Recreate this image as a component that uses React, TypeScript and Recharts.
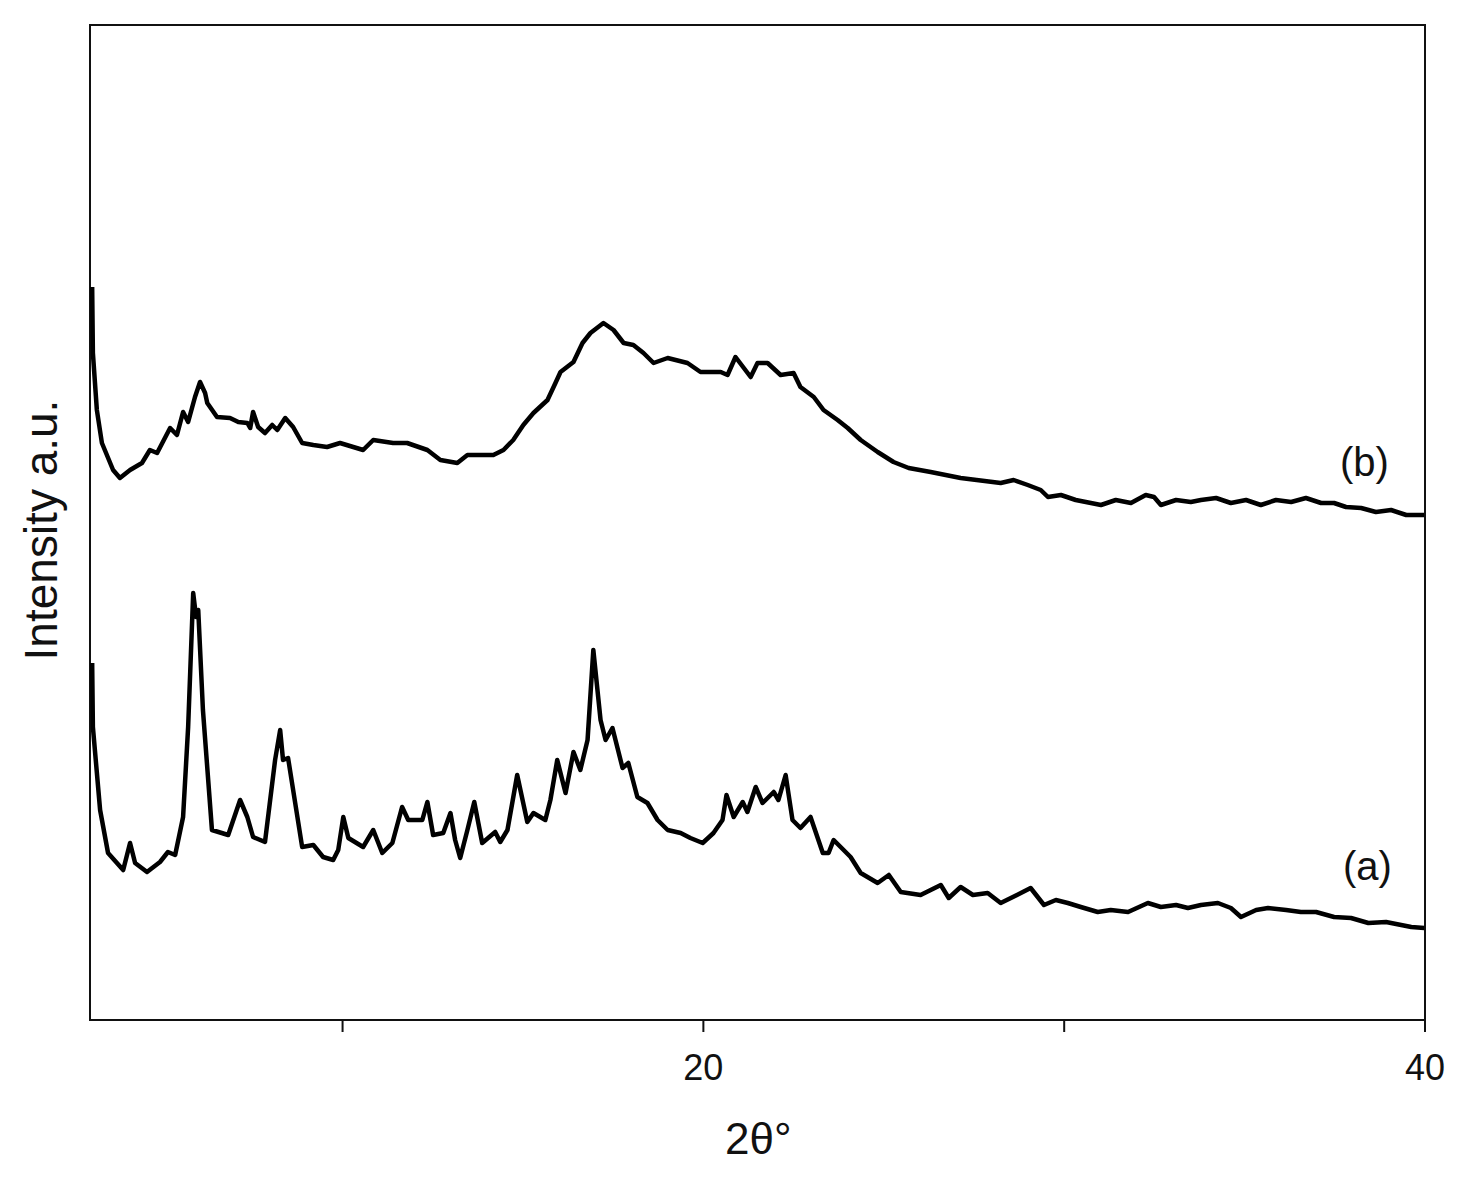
import { LineChart, Line, XAxis, YAxis, ReferenceArea } from "recharts";

// 2θ (degrees) and intensity (a.u.)
const thetaA = [
  3.06, 3.08, 3.28, 3.5, 3.92, 4.11, 4.25, 4.58, 4.94, 5.16, 5.36, 5.58, 5.72, 5.86, 5.94, 6.0, 6.13, 6.38,
  6.83, 7.16, 7.36, 7.52, 7.85, 8.13, 8.27, 8.35, 8.49, 8.88, 9.19, 9.46, 9.74, 9.88, 10.02, 10.16, 10.57,
  10.85, 11.1, 11.38, 11.65, 11.82, 12.21, 12.35, 12.51, 12.79, 12.99, 13.12, 13.26, 13.46, 13.65, 13.87,
  14.23, 14.37, 14.57, 14.84, 15.12, 15.29, 15.62, 15.76, 15.95, 16.18, 16.4, 16.59, 16.79, 16.95, 17.15,
  17.29, 17.48, 17.76, 17.92, 18.17, 18.45, 18.73, 19.01, 19.37, 19.64, 19.98, 20.28, 20.53, 20.64, 20.84,
  21.09, 21.22, 21.45, 21.64, 21.95, 22.08, 22.28, 22.47, 22.69, 22.97, 23.31, 23.47, 23.61, 24.08, 24.36,
  24.83, 25.14, 25.47, 26.02, 26.58, 26.8, 27.13, 27.47, 27.88, 28.24, 28.8, 29.07, 29.44, 29.77, 30.1,
  30.46, 30.93, 31.29, 31.77, 32.32, 32.68, 33.1, 33.43, 33.79, 34.26, 34.62, 34.9, 35.32, 35.65, 36.15,
  36.56, 36.98, 37.48, 37.95, 38.43, 38.92, 39.34, 39.62, 39.98,
];
const intensityA = [
  357, 293, 210, 167, 150, 177, 157, 148, 158, 168, 165, 203, 293, 427, 403, 410, 310, 190,
  185, 220, 203, 183, 178, 260, 290, 260, 262, 173, 175, 163, 160, 170, 203, 182, 173,
  190, 167, 177, 213, 200, 200, 218, 185, 187, 207, 180, 162, 190, 218, 177,
  188, 178, 190, 245, 198, 207, 200, 220, 260, 227, 268, 250, 280, 370, 300,
  280, 292, 252, 257, 223, 217, 200, 190, 187, 182, 177, 187, 200, 225, 203,
  218, 208, 233, 217, 228, 220, 245, 200, 192, 203, 167, 167, 180, 163, 147,
  137, 145, 128, 125, 135, 122, 133, 125, 127, 117, 127, 132, 115, 120, 117,
  113, 108, 110, 108, 117, 113, 115, 112, 115, 117, 112, 103, 110, 112, 110,
  108, 108, 103, 102, 97, 98, 95, 93, 92,
];

const thetaB = [
  3.06, 3.08, 3.19, 3.33, 3.64, 3.83, 4.11, 4.44, 4.66, 4.86, 5.22, 5.41, 5.58, 5.72, 5.91, 6.05, 6.19, 6.25,
  6.52, 6.88, 7.11, 7.36, 7.44, 7.52, 7.66, 7.85, 8.05, 8.19, 8.41, 8.63, 8.88, 9.19, 9.57, 9.93, 10.57,
  10.85, 11.4, 11.79, 12.35, 12.71, 13.18, 13.46, 13.82, 14.18, 14.46, 14.73, 15.01, 15.29, 15.68, 15.9,
  16.04, 16.4, 16.65, 16.87, 17.23, 17.51, 17.79, 18.06, 18.34, 18.62, 19.01, 19.56, 19.92, 20.48, 20.67,
  20.89, 21.31, 21.5, 21.78, 22.14, 22.5, 22.69, 23.06, 23.33, 23.72, 24.0, 24.36, 24.83, 25.27, 25.69,
  26.3, 27.13, 28.24, 28.6, 28.99, 29.35, 29.55, 29.91, 30.32, 30.74, 31.02, 31.43, 31.85, 32.26, 32.49,
  32.68, 33.1, 33.51, 33.79, 34.21, 34.62, 35.04, 35.45, 35.87, 36.29, 36.7, 37.12, 37.48, 37.81, 38.23,
  38.64, 39.06, 39.48, 39.98,
];
const intensityB = [
  733, 667, 610, 577, 550, 542, 550, 557, 570, 567, 592, 585, 608, 598, 623, 638, 627, 617,
  603, 602, 598, 597, 592, 608, 593, 587, 595, 590, 602, 593, 577, 575, 573, 577, 570,
  580, 577, 577, 570, 560, 557, 565, 565, 565, 570, 580, 595, 607, 620, 637,
  648, 658, 677, 687, 697, 690, 677, 675, 667, 657, 662, 657, 648, 648, 645,
  663, 643, 657, 657, 645, 647, 633, 623, 610, 600, 592, 580, 568, 558, 552,
  548, 542, 537, 540, 535, 530, 523, 525, 520, 517, 515, 520, 517, 525, 523,
  515, 520, 518, 520, 522, 517, 520, 515, 520, 518, 522, 517, 517, 513, 512,
  508, 510, 505, 505,
];

const xTicks = [10, 20, 30, 40];
const labeledTicks = [20, 40];

const patternA = thetaA.map((x, i) => ({ x, y: intensityA[i] }));
const patternB = thetaB.map((x, i) => ({ x, y: intensityB[i] }));

const FONT = "'Liberation Sans', Arial, Helvetica, sans-serif";

export default function App() {
  return (
    <div style={{ position: "relative", width: 1445, height: 1160, fontFamily: FONT, background: "#fff" }}>
      <LineChart width={1445} height={1160} margin={{ top: 17, right: 28, bottom: 88, left: 82 }}>
        <XAxis
          dataKey="x"
          type="number"
          domain={[3, 40]}
          ticks={xTicks}
          tickFormatter={(v: number) => (labeledTicks.includes(v) ? String(v) : "")}
          allowDataOverflow
          height={60}
          tickSize={12}
          tickMargin={22}
          stroke="#111"
          strokeWidth={2}
          tick={{ fill: "#111", fontSize: 36, fontFamily: FONT }}
        />
        <YAxis type="number" domain={[0, 995]} hide allowDataOverflow />
        <ReferenceArea x1={3} x2={40} y1={0} y2={995} fill="none" stroke="#111" strokeWidth={2} ifOverflow="extendDomain" />
        <Line data={patternA} dataKey="y" type="linear" stroke="#000" strokeWidth={4.5} strokeLinejoin="round" dot={false} isAnimationActive={false} />
        <Line data={patternB} dataKey="y" type="linear" stroke="#000" strokeWidth={4.5} strokeLinejoin="round" dot={false} isAnimationActive={false} />
      </LineChart>

      <div
        style={{
          position: "absolute",
          left: 33,
          top: 522,
          transform: "translate(-50%, -50%) rotate(-90deg)",
          whiteSpace: "nowrap",
          fontSize: 46,
          lineHeight: 1,
          color: "#111",
        }}
      >
        Intensity a.u.
      </div>
      <div style={{ position: "absolute", left: 717, top: 1109, fontSize: 44, lineHeight: 1, color: "#111" }}>2θ°</div>
      <div style={{ position: "absolute", left: 1332, top: 434, fontSize: 40, lineHeight: 1, color: "#111" }}>(b)</div>
      <div style={{ position: "absolute", left: 1335, top: 838, fontSize: 40, lineHeight: 1, color: "#111" }}>(a)</div>
    </div>
  );
}
